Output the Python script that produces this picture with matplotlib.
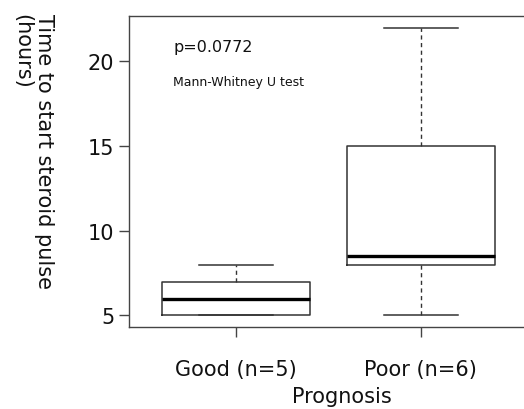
import matplotlib
matplotlib.use("Agg")
import matplotlib.pyplot as plt

# five-number summaries (R boxplot stats)
groups = ["Good (n=5)", "Poor (n=6)"]
whisker_low = [5, 5]
q1 = [5, 8]
median = [6, 8.5]
q3 = [7, 15]
whisker_high = [8, 22]

y_ticks = [5, 10, 15, 20]
p_text = "p=0.0772"
test_text = "Mann-Whitney U test"

plt.rcParams['font.family'] = ['DejaVu Sans']

fig = plt.figure(figsize=(5.24, 4.10), dpi=100)
# right edge of the box is cut off in the original, so let it run past the figure
ax = fig.add_axes([0.2462, 0.2, 0.7614, 0.7585])

stats = []
for i in range(len(groups)):
  stats.append(dict(label=groups[i], whislo=whisker_low[i], q1=q1[i],
                    med=median[i], q3=q3[i], whishi=whisker_high[i], fliers=[]))

line_col = '#333333'
ax.bxp(stats, positions=[1, 2], widths=0.8, capwidths=0.4, showfliers=False,
       boxprops=dict(color=line_col, linewidth=1.1),
       whiskerprops=dict(color=line_col, linewidth=1.0, linestyle=(0, (3, 2.5))),
       capprops=dict(color=line_col, linewidth=1.1),
       medianprops=dict(color='black', linewidth=2.4))

ax.set_xlim(0.42, 2.58)
ax.set_ylim(4.32, 22.68)
ax.set_yticks(y_ticks)
ax.set_xticks([1, 2])
ax.set_xticklabels(groups)

for s in ax.spines.values():
  s.set_color('#444444')
  s.set_linewidth(1.0)

ax.tick_params(axis='x', length=7.2, width=1.0, color='#444444', pad=16,
               labelsize=15, labelcolor='#111111')
ax.tick_params(axis='y', length=7.2, width=1.0, color='#444444', pad=3.5,
               labelsize=15, labelcolor='#111111')

ax.text(0.66, 20.9, p_text, fontsize=11.5, va='center', ha='left', color='#111111')
ax.text(0.66, 18.8, test_text, fontsize=9, va='center', ha='left', color='#111111')

fig.text(0.063, 0.966, "Time to start steroid pulse\n(hours)", rotation=-90,
         ha='center', va='top', multialignment='left', fontsize=15,
         linespacing=1.15, color='#111111')
fig.text(0.653, 0.032, "Prognosis", ha='center', va='center', fontsize=15,
         color='#111111')

fig.savefig("out.png", dpi=100)
